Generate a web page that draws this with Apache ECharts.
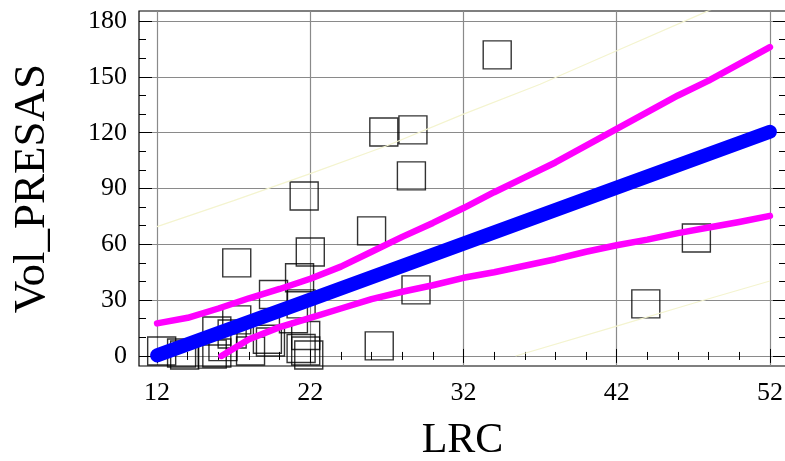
<!DOCTYPE html>
<html>
<head>
<meta charset="utf-8">
<script src="https://cdn.jsdelivr.net/npm/echarts@6/dist/echarts.min.js"></script>
<style>
  html, body { margin: 0; padding: 0; background: #fff; }
  #main { width: 785px; height: 461px; }
</style>
</head>
<body>
<div id="main"></div>
<script>
// scatter points (LRC, Vol_PRESAS)
var pointX = [34.2, 26.8, 28.7, 28.6, 21.6, 26.0, 22.0, 17.2, 21.3, 19.6, 28.9, 47.2, 43.9, 26.5,
              12.3, 13.6, 13.8, 15.9, 15.9, 16.9, 17.2, 18.1, 19.2, 19.4, 20.9, 21.4, 21.4, 21.7,
              21.9, 21.7, 15.6, 16.3];
var pointY = [161.8, 120.4, 121.5, 96.8, 86.0, 67.2, 55.9, 50.0, 42.0, 33.0, 35.5, 63.4, 28.0, 5.4,
              2.7, 1.6, 0.5, 13.4, 1.6, 11.8, 19.4, 2.7, 9.0, 7.5, 20.0, 28.0, 4.0, 2.7,
              0.5, 11.0, 1.0, 5.0];

// fitted line
var fitX = [12, 22, 32, 42, 52];
var fitY = [0.3, 30.3, 60.4, 90.5, 120.5];

// confidence limits (magenta)
var upperX = [12, 14, 16, 18, 20, 22, 24, 26, 28, 30, 32, 34, 36, 38, 40, 42, 44, 46, 48, 50, 52];
var upperY = [17.5, 20.5, 25.5, 31, 36, 41.5, 48, 56, 64, 71.5, 79.5, 88, 96, 104, 113, 122, 131, 140, 148, 157, 166];
var lowerX = [16.2, 18, 20, 22, 24, 26, 28, 30, 32, 34, 36, 38, 40, 42, 44, 46, 48, 50, 52];
var lowerY = [0, 9, 15.5, 20.5, 25.5, 30.5, 34.5, 38, 42, 45, 48.5, 52, 56, 59.5, 62.5, 66, 69, 72, 75.3];

// prediction limits (pale yellow)
var predUpX = [12, 17, 22, 27, 32, 37, 42, 47, 52];
var predUpY = [69.5, 83.5, 98, 113, 130, 146, 164, 182, 200];
var predLoX = [35.4, 42, 47, 52];
var predLoY = [0, 16, 28.3, 40.3];

// axes
var xTicks = [12, 22, 32, 42, 52];
var yTicks = [0, 30, 60, 90, 120, 150, 180];
var xMin = 10.82, xMax = 53.05;
var yMin = -5.4, yMax = 185.4;

function minorOf(ticks, parts) {
    var out = [];
    for (var i = 0; i < ticks.length - 1; i++) {
        var step = (ticks[i + 1] - ticks[i]) / parts;
        for (var k = 1; k < parts; k++) {
            out.push(+(ticks[i] + step * k).toFixed(4));
        }
    }
    return out;
}
var xMinor = minorOf(xTicks, 5);
var yMinor = minorOf(yTicks, 3);

function zip(xs, ys) {
    var d = [];
    for (var i = 0; i < xs.length; i++) {
        d.push([xs[i], ys[i]]);
    }
    return d;
}

var serif = 'Liberation Serif';

// axis that only draws a set of inside ticks
function tickAxis(pos, values, len) {
    var horiz = (pos === 'top' || pos === 'bottom');
    return {
        type: 'value',
        position: pos,
        min: horiz ? xMin : yMin,
        max: horiz ? xMax : yMax,
        axisLine: {show: false},
        axisTick: {show: true, inside: true, length: len, customValues: values,
                   lineStyle: {color: '#000', width: 1}},
        axisLabel: {show: false},
        splitLine: {show: false}
    };
}

var xMain = tickAxis('bottom', xTicks, 7);
xMain.axisLabel = {show: true, customValues: xTicks, color: '#000', fontFamily: serif,
                   fontSize: 26, margin: 14};
xMain.splitLine = {show: true, lineStyle: {color: '#8a8a8a', width: 1.2}};
xMain.name = 'LRC';
xMain.nameLocation = 'middle';
xMain.nameGap = 54;
xMain.nameTextStyle = {color: '#000', fontFamily: serif, fontSize: 42};

var yMain = tickAxis('left', yTicks, 13);
yMain.axisLabel = {show: true, customValues: yTicks, color: '#000', fontFamily: serif,
                   fontSize: 26, margin: 12};
yMain.splitLine = {show: true, lineStyle: {color: '#8a8a8a', width: 1.2}};
yMain.name = 'Vol_PRESAS';
yMain.nameLocation = 'middle';
yMain.nameGap = 84;
yMain.nameTextStyle = {color: '#000', fontFamily: serif, fontSize: 45};

var option = {
    animation: false,
    backgroundColor: '#fff',
    grid: {
        left: 139, right: -1, top: 11, bottom: 95,
        outerBoundsMode: 'none',
        containLabel: false,
        show: true, borderColor: '#000', borderWidth: 1.2, backgroundColor: 'transparent'
    },
    xAxis: [
        xMain,
        tickAxis('bottom', xMinor, 4),
        tickAxis('top', xTicks, 7),
        tickAxis('top', xMinor, 4)
    ],
    yAxis: [
        yMain,
        tickAxis('left', yMinor, 7),
        tickAxis('right', yTicks, 13),
        tickAxis('right', yMinor, 7)
    ],
    series: [
        {
            type: 'scatter',
            data: zip(pointX, pointY),
            symbol: 'rect',
            symbolSize: 28,
            itemStyle: {color: 'rgba(0,0,0,0)', borderColor: '#000', borderWidth: 1.4},
            z: 2
        },
        {
            type: 'line', data: zip(predUpX, predUpY), symbol: 'none',
            lineStyle: {color: '#f4f4cf', width: 1.2}, z: 3
        },
        {
            type: 'line', data: zip(predLoX, predLoY), symbol: 'none',
            lineStyle: {color: '#f4f4cf', width: 1.2}, z: 3
        },
        {
            type: 'line', data: zip(upperX, upperY), symbol: 'none',
            lineStyle: {color: '#ff00ff', width: 6.5, cap: 'round', join: 'round'}, z: 4
        },
        {
            type: 'line', data: zip(lowerX, lowerY), symbol: 'none',
            lineStyle: {color: '#ff00ff', width: 6.5, cap: 'round', join: 'round'}, z: 4
        },
        {
            type: 'line', data: zip(fitX, fitY), symbol: 'none',
            lineStyle: {color: '#0000ff', width: 14, cap: 'round', join: 'round'}, z: 5
        }
    ]
};

var myChart = echarts.init(document.getElementById('main'));
myChart.setOption(option);
</script>
</body>
</html>
